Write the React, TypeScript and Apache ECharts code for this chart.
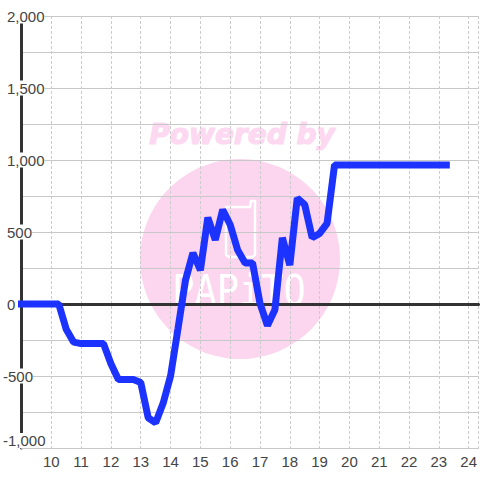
import React, { useEffect, useRef } from "react";
import * as echarts from "echarts";

const hours = [9,9.25,9.5,9.75,10,10.25,10.5,10.75,11,11.25,11.5,11.75,12,12.25,12.5,12.75,13,13.25,13.5,13.75,14,14.25,14.5,14.75,15,15.25,15.5,15.75,16,16.25,16.5,16.75,17,17.25,17.5,17.75,18,18.25,18.5,18.75,19,19.25,19.5,19.75,20,20.25,20.5,20.75,21,21.25,21.5,21.75,22,22.25,22.5,22.75,23,23.25];
const values = [0,0,0,0,0,0,-175,-265,-275,-275,-275,-275,-415,-525,-525,-525,-545,-790,-825,-690,-500,-170,165,355,235,600,445,655,550,375,285,285,5,-150,-40,460,270,735,690,460,490,560,965,965,965,965,965,965,965,965,965,965,965,965,965,965,965,965];

const poweredBy = "Powered by";
const wordmark = "PAPiTO";

export default function App() {
  const ref = useRef<HTMLDivElement>(null);
  useEffect(() => {
    const chart = echarts.init(ref.current!, undefined, { renderer: "svg" });
    const font = "'Liberation Sans', Arial, sans-serif";
    chart.setOption({
      animation: false,
      backgroundColor: "#fff",
      textStyle: { fontFamily: font },
      grid: { left: 20.5, right: -0.5, top: 16, bottom: 32, containLabel: false },
      graphic: [
        { type: "circle", z: -10, shape: { cx: 240, cy: 259, r: 100 }, style: { fill: "#fbd6ee" }, silent: true },
        { type: "text", z: -10, x: 242, y: 134, style: { text: poweredBy, fontFamily: "'DejaVu Sans'", fontWeight: "bold", fontStyle: "italic", fontSize: 28, fill: "#fcd9f0", stroke: "#fcd9f0", lineWidth: 1.2, align: "center", verticalAlign: "middle" }, silent: true },
        { type: "text", z: -9, x: 239, y: 290, scaleY: 1.15, originX: 0, originY: 0, style: { text: wordmark, fontFamily: "'DejaVu Sans Mono'", fontSize: 37, fill: "#fff", align: "center", verticalAlign: "middle" }, silent: true },
        { type: "polygon", z: -9, shape: { points: [[226, 207], [250, 207], [251, 201], [255, 201], [255, 255], [252, 257], [229, 257], [226, 255]] }, style: { fill: "none", stroke: "#fff", lineWidth: 2.5, lineJoin: "round" }, silent: true },
      ],
      xAxis: [
        {
          type: "value", min: 9, max: 24.33, interval: 1, position: "bottom",
          axisLine: { onZero: false, show: true, lineStyle: { color: "#c8c8c8", width: 1 } },
          axisTick: { show: false },
          axisLabel: { color: "#444", fontSize: 15, margin: 6, showMaxLabel: false, showMinLabel: false, formatter: (v: number) => (Number.isInteger(v) ? String(v) : "") },
          splitLine: { show: true, lineStyle: { color: "#ccc", type: [3, 2], width: 1 } },
        },
        {
          type: "value", min: 9, max: 24.33, interval: 1, position: "bottom",
          axisLine: { onZero: true, show: true, lineStyle: { color: "#333", width: 3 } },
          axisTick: { show: false }, axisLabel: { show: false }, splitLine: { show: false },
        },
      ],
      yAxis: {
        type: "value", min: -1000, max: 2000, interval: 500, position: "left",
        minorTick: { show: false, splitNumber: 2 },
        minorSplitLine: { show: true, lineStyle: { color: "#c8c8c8", width: 1 } },
        axisLine: { show: true, onZero: false, lineStyle: { color: "#333", width: 3 } },
        axisTick: { show: false },
        splitLine: { show: true, lineStyle: { color: "#c8c8c8", width: 1 } },
        axisLabel: {
          color: "#444", fontSize: 15, margin: 18.5, align: "left", backgroundColor: "#fff",
          verticalAlignMinLabel: "bottom",
          formatter: (v: number) => {
            const s = v.toLocaleString("en-US");
            return v < 0 ? s : "{p|" + s + "}";
          },
          rich: { p: { padding: [0, 0, 0, 4], color: "#444", fontSize: 15 } },
        },
      },
      series: [
        {
          type: "line", data: hours.map((h, i) => [h, values[i]]), showSymbol: false, clip: false,
          lineStyle: { color: "#1c32ff", width: 7, cap: "square", join: "bevel" },
          z: 5,
        },
      ],
    });
    return () => chart.dispose();
  }, []);
  return <div ref={ref} style={{ position: "fixed", left: 0, top: 0, width: 480, height: 480 }} />;
}
